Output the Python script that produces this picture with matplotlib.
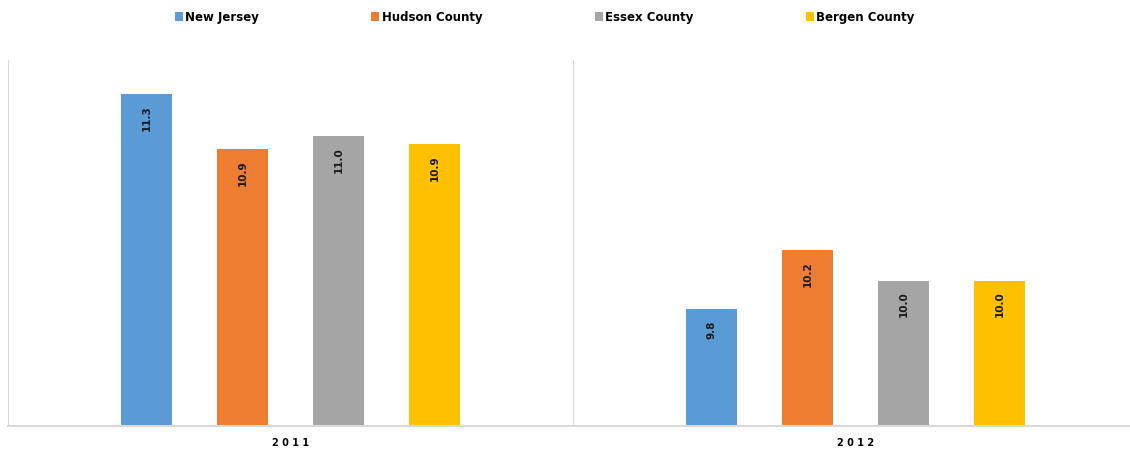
import matplotlib
matplotlib.use('Agg')
import matplotlib.pyplot as plt
import numpy as np

# data
years = ['2011', '2012']
series = ['New Jersey', 'Hudson County', 'Essex County', 'Bergen County']
colors = ['#5b9bd5', '#ed7d31', '#a5a5a5', '#ffc000']
new_jersey = [11.30, 9.80]
hudson = [10.92, 10.21]
essex = [11.01, 10.00]
bergen = [10.95, 10.00]
values = [new_jersey, hudson, essex, bergen]

fig = plt.figure(figsize=(11.3, 4.49), dpi=100)
ax = fig.add_axes([8 / 1130, 23 / 449, 1130 / 1130, 366 / 449])

x = np.arange(len(years))
width = 0.09
step = 0.17
for i, (name, vals, c) in enumerate(zip(series, values, colors)):
    pos = x + (i - 1.5) * step
    bars = ax.bar(pos, vals, width, color=c, label=name, zorder=2)
    for b, v in zip(bars, vals):
        ax.annotate('%.1f' % v, (b.get_x() + b.get_width() / 2, v),
                    xytext=(0, -8), textcoords='offset points',
                    rotation=90, ha='center', va='top',
                    fontsize=7.5, fontweight='bold', color='#1a1a1a')

ax.set_xlim(-0.5, 1.5)
ax.set_ylim(8.984, 11.54)

# separators between categories
for xv in [-0.5, 0.5, 1.5]:
    ax.axvline(xv, color='#d9d9d9', lw=0.8, zorder=1)

for s in ['top', 'right', 'left']:
    ax.spines[s].set_visible(False)
ax.spines['bottom'].set_color('#d9d9d9')
ax.spines['bottom'].set_linewidth(1.5)
ax.set_yticks([])
ax.set_xticks(x)
ax.set_xticklabels([' '.join(list(y)) for y in years], fontsize=7, fontweight='bold')
ax.tick_params(axis='x', length=0, pad=9)

fig.legend(loc='upper center', bbox_to_anchor=(0.482, 1.0), ncol=4, frameon=False,
           handlelength=0.7, handleheight=0.7, handletextpad=0.2,
           columnspacing=9.5, prop={'size': 8.5, 'weight': 'bold'})

fig.savefig('out.png', dpi=100)
